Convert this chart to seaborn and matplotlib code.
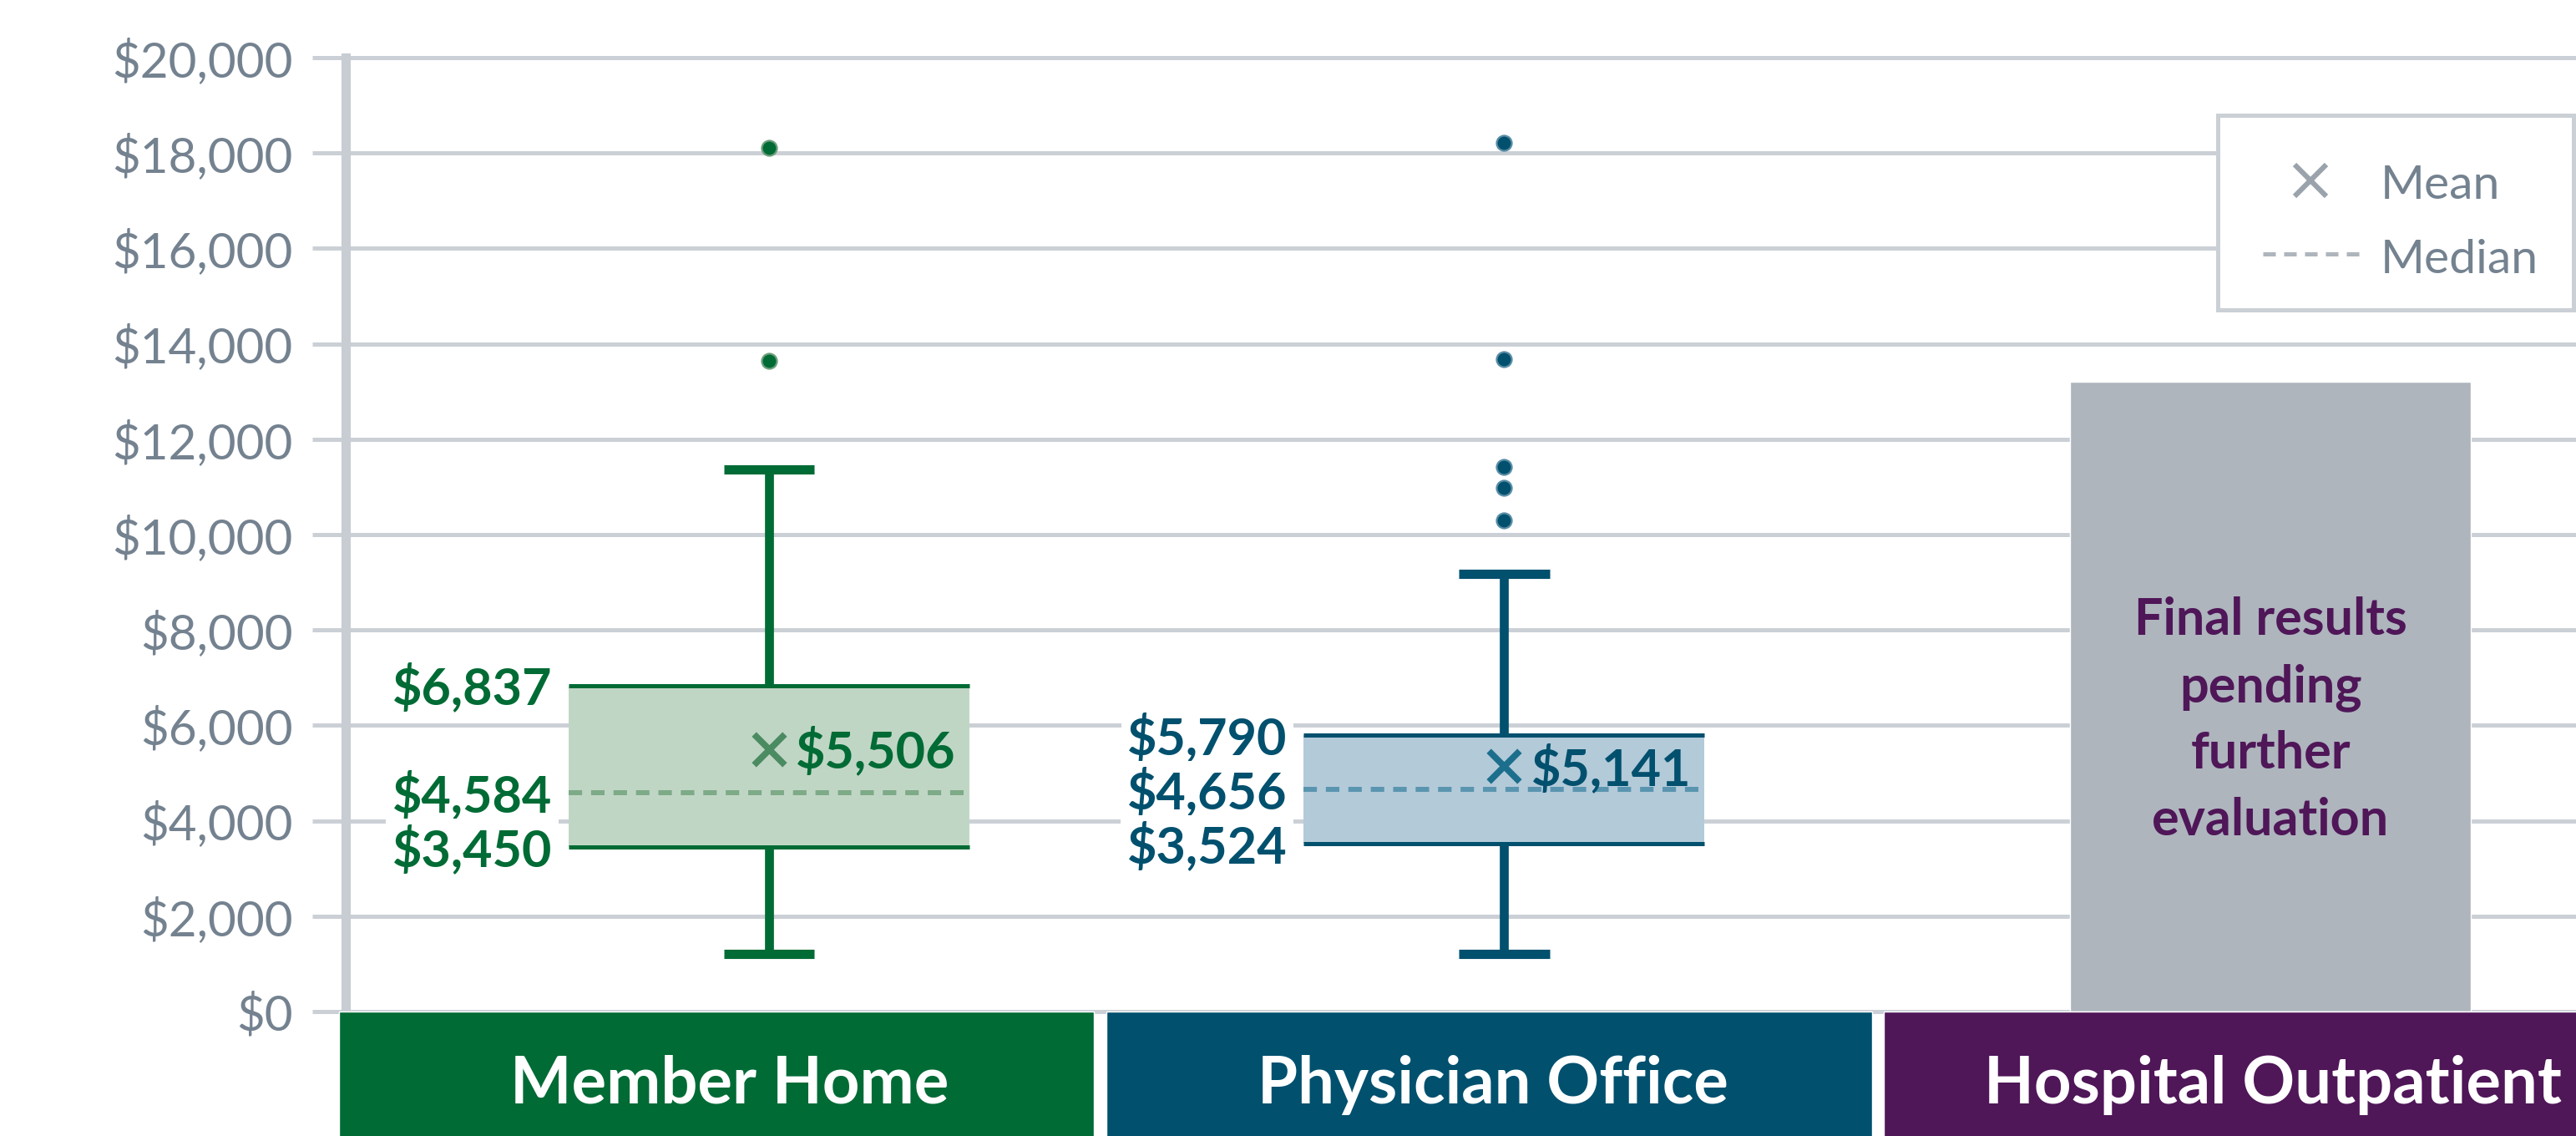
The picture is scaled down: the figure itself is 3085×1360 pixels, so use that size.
import numpy as np
import matplotlib
matplotlib.use("Agg")
import matplotlib.pyplot as plt
from matplotlib.patches import Rectangle
import seaborn as sns

# data
categories = ["Member Home", "Physician Office", "Hospital Outpatient"]
q1 = [3450, 3524]
median = [4584, 4656]
q3 = [6837, 5790]
mean = [5506, 5141]
whisker_low = [1210, 1210]
whisker_high = [11370, 9170]
outliers = [[18110, 13650], [18220, 13680, 11420, 10980, 10290]]
pending_height = 13200
pending_lines = ["Final results", "pending", "further", "evaluation"]
tick_values = list(range(0, 20001, 2000))
tick_labels = [f"${v:,}" for v in tick_values]

# colours
dark = ["#006B35", "#00506E", "#4F1658"]
fill = ["#C0D6C5", "#B3CAD9"]
med_col = ["#7DAA87", "#5A95B0"]
mean_col = ["#4B8B61", "#1C6F8C"]
dot_edge = ["#6E9F7C", "#5A8EA6"]
GRAY_BAR = "#AEB5BD"
GRID = "#CBD0D6"
TICK_COL = "#748290"
LEG_X = "#9AA3AB"

sns.set_theme(style="white")
plt.rcParams["font.family"] = ["Lato", "DejaVu Sans"]

W, H, DPI = 3085, 1360, 100
fig = plt.figure(figsize=(W / DPI, H / DPI), dpi=DPI)
ax = fig.add_axes([414.5 / W, (H - 1211) / H, 1 - 414.5 / W, (1211 - 69) / H])
ax.set_xlim(-0.5634, 2.4071)
ax.set_ylim(0, 20000)

# grid / spine / ticks
ax.set_axisbelow(True)
ax.yaxis.grid(True, color=GRID, lw=3.6)
ax.xaxis.grid(False)
for s in ["top", "right", "bottom"]:
    ax.spines[s].set_visible(False)
ax.spines["left"].set_color("#C8CDD3")
ax.spines["left"].set_linewidth(8)
ax.set_yticks(tick_values, labels=tick_labels, fontsize=42, fontweight="normal", color=TICK_COL)
ax.tick_params(axis="y", length=29, width=3.6, color=GRID, pad=17, left=True)
ax.set_xticks([])
for gl in ax.get_ygridlines():
    gl.set_clip_on(False)

box_pos = [0, 0.979, 2]
box_w = 0.534
label_font = dict(fontsize=44, fontweight="bold")
for i in range(2):
    p = box_pos[i]
    stats = [dict(med=median[i], q1=q1[i], q3=q3[i], whislo=whisker_low[i],
                  whishi=whisker_high[i], fliers=[], mean=mean[i])]
    ax.bxp(stats, positions=[p], widths=box_w, capwidths=0.121, patch_artist=True,
           showfliers=False, showmeans=False,
           boxprops=dict(facecolor=fill[i], edgecolor="none", linewidth=0),
           whiskerprops=dict(color=dark[i], lw=7.7, solid_capstyle="butt"),
           capprops=dict(color=dark[i], lw=8, solid_capstyle="butt"),
           medianprops=dict(color=med_col[i], lw=4.3, linestyle=(0, (2.7, 1.8))),
           manage_ticks=False)
    ax.hlines([q1[i], q3[i]], p - box_w / 2, p + box_w / 2, color=dark[i], lw=3.6, zorder=3)

    sns.scatterplot(x=[p] * len(outliers[i]), y=outliers[i], ax=ax, s=169,
                    color=dark[i], edgecolor=dot_edge[i], linewidth=1.6, zorder=4, legend=False)
    sns.scatterplot(x=[p], y=[mean[i]], ax=ax, marker="x", s=700, color=mean_col[i],
                    linewidth=5.5, zorder=4, legend=False)
    ax.text(p + 0.036, mean[i] - 403, f"${mean[i]:,}", ha="left", va="baseline",
            color=dark[i], zorder=5, **label_font)

    for v in (q3[i], median[i], q1[i]):
        ax.text(p - box_w / 2 - 0.022, v - 403, f"${v:,}", ha="right", va="baseline",
                color=dark[i], zorder=5,
                bbox=dict(boxstyle="square,pad=0.12", fc="white", ec="none"), **label_font)

# pending bar
ax.bar([box_pos[2]], [pending_height], width=box_w, color=GRAY_BAR, zorder=3)
for k, line in enumerate(pending_lines):
    ax.text(box_pos[2], 7898 - k * 1400, line, ha="center", va="baseline", color=dark[2],
            fontsize=44, fontweight="bold", zorder=5)

# category bands under the axis
band_left = [-0.573, 0.449, 1.485]
band_right = [0.433, 1.469, 2.52]
label_x = [-0.053, 0.964, 2.003]
for i, cat in enumerate(categories):
    l, r = band_left[i], band_right[i]
    ax.bar([(l + r) / 2], [-3000], bottom=0, width=r - l, color=dark[i],
           clip_on=False, zorder=6)
    ax.text(label_x[i], -1926, cat, ha="center", va="baseline", color="white",
            fontsize=56, fontweight="bold", zorder=7, clip_on=False)

# legend box
ax.add_patch(Rectangle((1.930, 14710), 2.4038 - 1.930, 18790 - 14710, facecolor="white",
                       edgecolor=GRID, lw=3.6, zorder=10, clip_on=False))
ax.plot([2.0534], [17430], marker="x", ms=27, mew=4.4, color=LEG_X, ls="none",
        zorder=11, clip_on=False)
ax.plot([1.990, 2.118], [15880, 15880], color=GRAY_BAR, lw=3.6, ls=(0, (3, 2)),
        zorder=11, clip_on=False)
ax.text(2.147, 17040, "Mean", ha="left", va="baseline", color=TICK_COL,
        fontsize=41, fontweight="normal", zorder=11)
ax.text(2.147, 15480, "Median", ha="left", va="baseline", color=TICK_COL,
        fontsize=41, fontweight="normal", zorder=11)

fig.savefig("out.png", dpi=DPI)
